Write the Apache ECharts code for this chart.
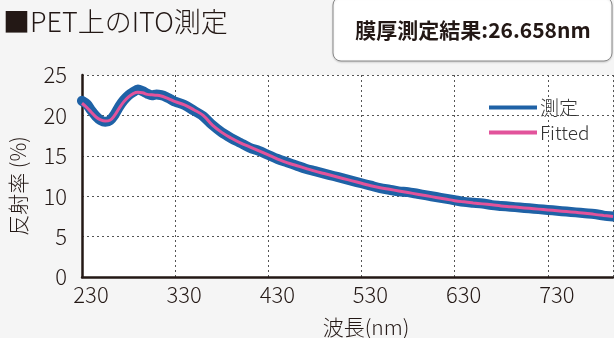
<!DOCTYPE html>
<html><head><meta charset="utf-8">
<script src="https://cdn.jsdelivr.net/npm/echarts@6/dist/echarts.min.js"></script>
<style>html,body{margin:0;padding:0;background:#f5f5f5}#c{width:614px;height:338px}</style>
</head><body><div id="c"></div>
<script>
const wavelengths = [230,235,240,245,250,255,260,265,270,275,280,285,290,295,300,305,310,315,320,325,330,340,350,360,370,380,390,400,410,420,430,440,450,460,470,480,490,500,510,520,530,540,550,560,570,580,590,600,610,620,630,640,650,660,670,680,690,700,710,720,730,740,750,760,770,780,790,800];
const measured = [21.8,21.4,20.6,19.9,19.4,19.2,19.4,20.1,21.1,21.9,22.5,22.9,23.2,23.0,22.7,22.5,22.6,22.5,22.3,22.0,21.7,21.3,20.6,19.9,18.8,17.9,17.2,16.6,16.0,15.6,15.1,14.6,14.2,13.8,13.4,13.1,12.8,12.5,12.2,11.9,11.6,11.3,11.0,10.8,10.6,10.5,10.3,10.1,9.9,9.7,9.5,9.3,9.2,9.1,8.9,8.8,8.7,8.6,8.5,8.4,8.3,8.2,8.1,8.0,7.9,7.8,7.6,7.5];
const fitted = [21.5,21.0,20.4,19.8,19.45,19.3,19.4,20.0,20.9,21.7,22.3,22.7,22.85,22.8,22.6,22.55,22.5,22.4,22.2,21.95,21.7,21.3,20.7,20.0,18.8,17.9,17.2,16.6,16.1,15.6,15.1,14.6,14.15,13.8,13.45,13.1,12.8,12.5,12.2,11.9,11.6,11.3,11.05,10.85,10.65,10.45,10.25,10.05,9.85,9.65,9.45,9.3,9.17,9.05,8.93,8.8,8.7,8.6,8.5,8.4,8.3,8.2,8.1,8.0,7.9,7.75,7.62,7.5];
const xTicks = [230,330,430,530,630,730];
const yTicks = [0,5,10,15,20,25];
const seriesNames = ['測定','Fitted'];
const titleText = '■PET上のITO測定';
const resultText = '膜厚測定結果:26.658nm';
const xName = '波長(nm)';
const yName = '反射率 (%)';

const NUM = '"Noto Sans CJK JP","Liberation Sans",sans-serif';
const JP = '"Noto Sans CJK JP",sans-serif';
const chart = echarts.init(document.getElementById('c'), null, {renderer:'canvas'});
const pair = (ys) => wavelengths.map((w,i)=>[w, ys[i]]);
chart.setOption({
  backgroundColor:'#f5f5f5',
  animation:false,
  grid:{left:82,right:1,top:75,bottom:61,show:true,backgroundColor:'#fff',borderWidth:0},
  xAxis:{type:'value',min:230,max:800,interval:100,
    axisLine:{lineStyle:{color:'#231815',width:2.5}},
    axisTick:{show:false},
    axisLabel:{color:'#231815',fontSize:22,fontFamily:NUM,fontWeight:300,margin:7,hideOverlap:false,
      padding:[0,0,0,18],showMaxLabel:false, formatter:v=>xTicks.includes(v)?String(v):''},
    splitLine:{show:true,lineStyle:{color:'#555',type:[2,3],width:1}}},
  yAxis:{type:'value',min:0,max:25,interval:5,
    axisLine:{show:true,lineStyle:{color:'#231815',width:2.5}},
    axisTick:{show:false},
    axisLabel:{color:'#231815',fontSize:22,fontFamily:NUM,fontWeight:300,margin:15,
      padding:[0,0,8,0],formatter:v=>yTicks.includes(v)?String(v):''},
    splitLine:{show:true,lineStyle:{color:'#555',type:[2,3],width:1}}},
  legend:{left:484,top:93,orient:'vertical',itemWidth:48,itemHeight:4,itemGap:6,icon:'rect',
    textStyle:{fontSize:19,fontFamily:NUM,fontWeight:300,color:'#333',padding:[0,0,0,-2]},
    data:seriesNames},
  series:[
    {name:seriesNames[0],type:'line',data:pair(measured),smooth:0.3,showSymbol:false,
      lineStyle:{color:'#1f62a6',width:10,cap:'round',join:'round'},itemStyle:{color:'#1f62a6'}},
    {name:seriesNames[1],type:'line',data:pair(fitted),smooth:0.4,showSymbol:false,
      lineStyle:{color:'#e2539b',width:3},itemStyle:{color:'#e2539b'}}
  ],
  graphic:[
    {type:'text',left:3,top:8,style:{text:titleText,fontSize:27,fontFamily:JP,fontWeight:300,fill:'#231815'}},
    {type:'rect',shape:{x:333,y:-3,width:279,height:64,r:8},
      style:{fill:'#fff',stroke:'#8a8a8a',lineWidth:1,shadowColor:'rgba(0,0,0,0.15)',shadowBlur:2,shadowOffsetY:1}},
    {type:'text',x:473,y:30,style:{text:resultText,fontSize:21,fontFamily:JP,fontWeight:'bold',fill:'#231815',align:'center',verticalAlign:'middle'}},
    {type:'text',x:366,y:327,style:{text:xName,fontSize:21,fontFamily:JP,fontWeight:300,fill:'#231815',align:'center',verticalAlign:'middle'}},
    {type:'text',x:18,y:186,rotation:Math.PI/2,style:{text:yName,fontSize:21,fontFamily:JP,fontWeight:300,fill:'#231815',align:'center',verticalAlign:'middle'}}
  ]
});
</script></body></html>
